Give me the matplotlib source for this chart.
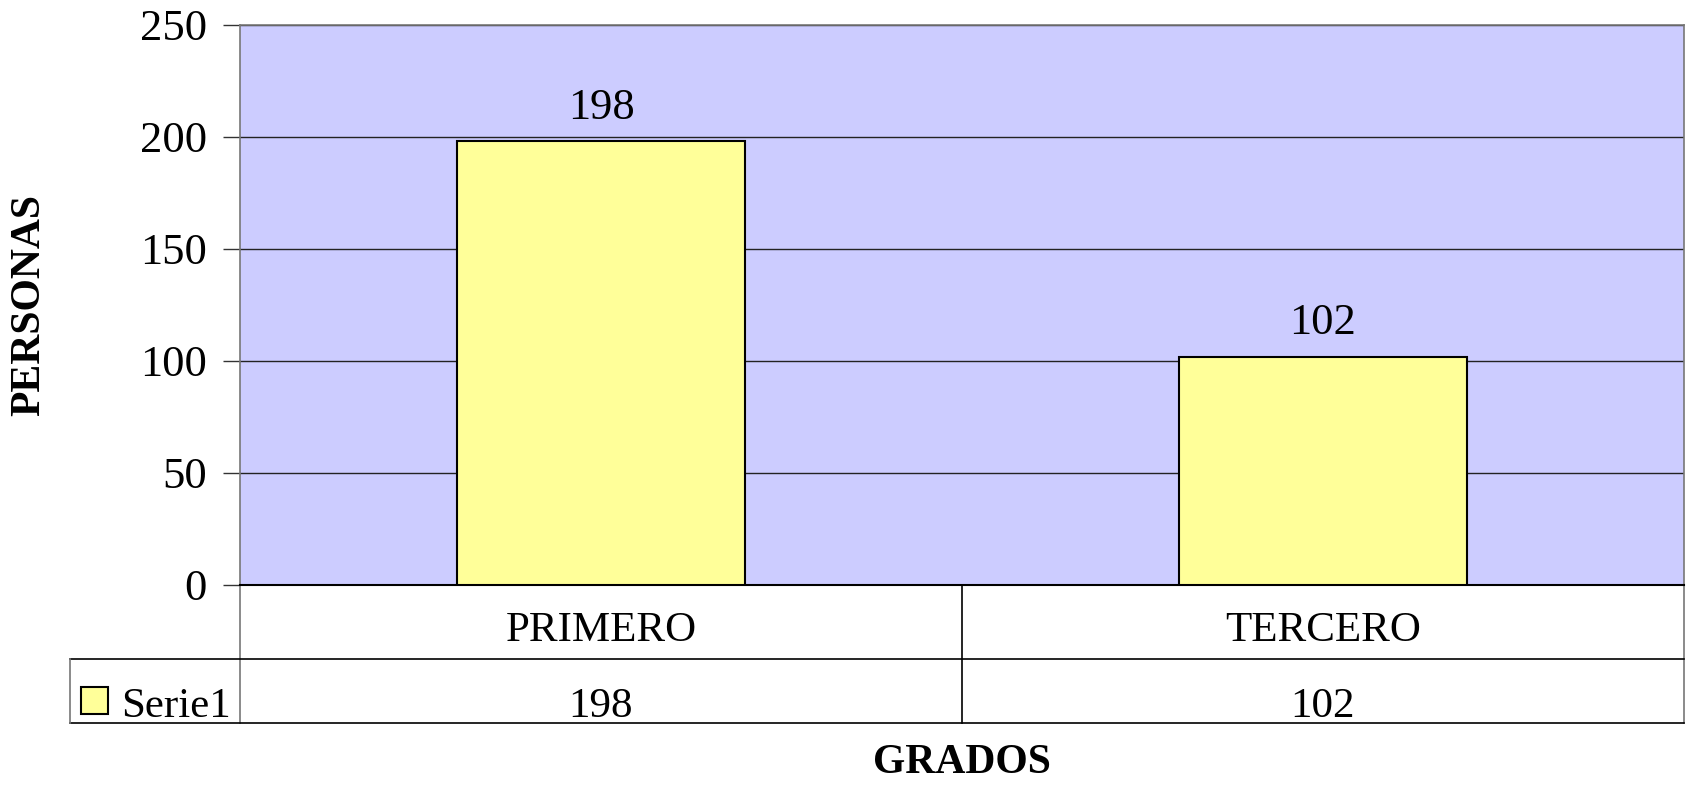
import matplotlib
matplotlib.use("Agg")
import matplotlib.pyplot as plt
from matplotlib.lines import Line2D
from matplotlib.patches import Rectangle
from matplotlib.transforms import blended_transform_factory

categories = ["PRIMERO", "TERCERO"]
values = [198, 102]
series_name = "Serie1"
yticks = [0, 50, 100, 150, 200, 250]

W, H = 1686, 787
plt.rcParams["font.family"] = ["Liberation Serif", "DejaVu Serif"]

fig = plt.figure(figsize=(W / 100, H / 100), dpi=100)


def fx(x):
    return x / W


def fy(y):
    return 1 - y / H


ax = fig.add_axes([fx(240), fy(585), fx(1684) - fx(240), fy(25) - fy(585)])
ax.set_facecolor("#CCCCFF")
xs = list(range(len(categories)))
bars = ax.bar(xs, values, width=0.4, color="#FFFF99", edgecolor="black", linewidth=1.5, zorder=3)
ax.set_xlim(-0.5, len(categories) - 0.5)
ax.set_ylim(0, 250)
ax.set_yticks(yticks)
ax.set_yticklabels([str(t) for t in yticks], fontsize=32)
ax.set_xticks([])
ax.yaxis.grid(True, color="#222222", linewidth=1)
ax.set_axisbelow(True)
ax.tick_params(axis="y", length=12, width=1, pad=12, color="#333333")
for s in ["left", "right", "top"]:
    ax.spines[s].set_color("#777777")
    ax.spines[s].set_linewidth(1.2)
ax.spines["bottom"].set_color("black")
ax.spines["bottom"].set_linewidth(1.5)

for b, v in zip(bars, values):
    ax.annotate(str(v), (b.get_x() + b.get_width() / 2, v), xytext=(0, 16),
                textcoords="offset points", ha="center", va="baseline", fontsize=32)

# data table under the axes
tr = blended_transform_factory(ax.transData, fig.transFigure)
edges = [i - 0.5 for i in range(len(categories) + 1)]
y0, y1, y2 = fy(585), fy(659), fy(723)
lc = "black"
fig.add_artist(Line2D([fx(70), fx(1684)], [y1, y1], color=lc, lw=1.2))
fig.add_artist(Line2D([fx(70), fx(1684)], [y2, y2], color=lc, lw=1.2))
for i, e in enumerate(edges):
    c = "#777777" if i in (0, len(edges) - 1) else lc
    ax.add_line(Line2D([e, e], [y0, y2], color=c, lw=1.2, transform=tr, clip_on=False))
fig.add_artist(Line2D([fx(70), fx(70)], [y1, y2], color="#777777", lw=1.2))

for i, (c, v) in enumerate(zip(categories, values)):
    ax.text(i, fy(641), c, transform=tr, ha="center", va="baseline", fontsize=31)
    ax.text(i, fy(717), str(v), transform=tr, ha="center", va="baseline", fontsize=31)

# legend key in the table
fig.add_artist(Rectangle((fx(81), fy(714)), fx(27), fy(687) - fy(714), facecolor="#FFFF99",
                         edgecolor="black", lw=1.5, transform=fig.transFigure))
fig.text(fx(121), fy(717), series_name, ha="left", va="baseline", fontsize=31)

fig.text(fx(962), fy(763), "GRADOS", ha="center", va="center", fontsize=30, fontweight="bold")
fig.text(fx(29), fy(305), "PERSONAS", ha="center", va="center", fontsize=30,
         fontweight="bold", rotation=90)

fig.savefig("out.png", dpi=100)
